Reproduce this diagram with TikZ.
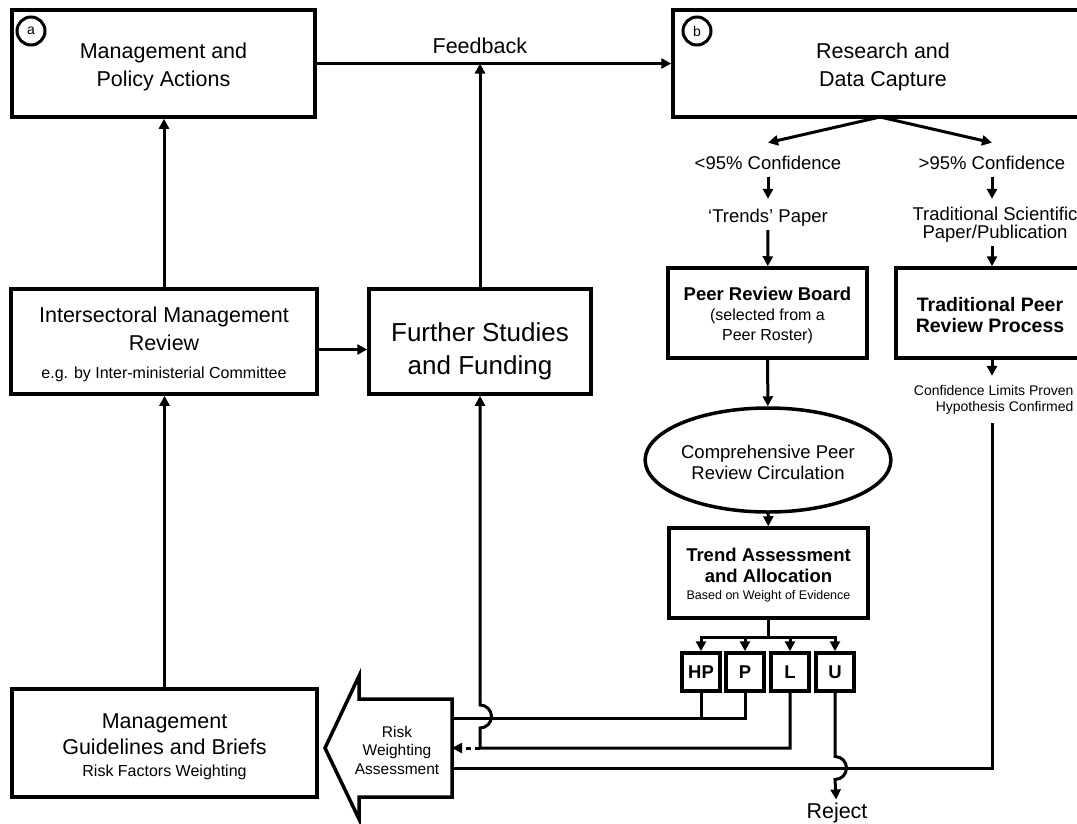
\documentclass[tikz,border=0pt]{standalone}
\usepackage{fontspec}
\setmainfont{Liberation Sans}
\usepackage{tikz}
\usetikzlibrary{arrows.meta, shapes.geometric, calc}

\newcommand\fsHead{\fontsize{21.5}{28}\selectfont}
\newcommand\fsBig{\fontsize{26}{33}\selectfont}
\newcommand\fsMid{\fontsize{18.5}{21}\selectfont}
\newcommand\fsPeer{\fontsize{19.5}{21}\selectfont}
\newcommand\fsSmall{\fontsize{15.5}{18.5}\selectfont}
\newcommand\fsSub{\fontsize{16}{20}\selectfont}
\newcommand\fsNote{\fontsize{14}{16}\selectfont}
\newcommand\fsTiny{\fontsize{12.5}{15}\selectfont}
\newcommand\fsTag{\fontsize{14}{14}\selectfont}

\begin{document}
\begin{tikzpicture}[
	x = 1pt, y = -1pt,
	panel/.style = {draw, line width=3.5pt, align=center, inner sep=0pt},
	grade/.style = {panel, minimum size=38pt, font=\fsMid\bfseries},
	tag/.style   = {draw, circle, line width=3pt, minimum size=28pt, inner sep=0pt, font=\fsTag},
	link/.style  = {line width=3pt},
	flow/.style  = {link, -{Triangle[length=10pt, width=10pt]}},
	hint/.style  = {flow, dash pattern=on 5pt off 4pt}
]
	\useasboundingbox (0,0) rectangle (1077,823);
	\clip (0,0) rectangle (1077,823);

	% left column
	\node [panel, minimum width=303pt, minimum height=107pt, font=\fsHead] (policy) at (163.5,63.5) {\rule{0pt}{22pt}Management and\\Policy Actions};
	\node [tag] (taga) at (31,31) {a};
	\node [panel, minimum width=306pt, minimum height=105pt, font=\fsHead] (review) at (164,341.5)
		{\rule{0pt}{22pt}Intersectoral Management\\Review\\\fsSub e.g. by Inter-ministerial Committee};
	\node [panel, minimum width=222pt, minimum height=105pt, font=\fsBig] (further) at (480,341.5) {\rule{0pt}{39pt}Further Studies\\and Funding};
	\node [panel, minimum width=305pt, minimum height=108pt, font=\fsHead] (guide) at (164.5,743)
		{\rule{0pt}{22pt}Management\\[-2pt]Guidelines and Briefs\\[-6pt]\fsSub Risk Factors Weighting};

	% risk weighting arrow
	\draw [panel] (325,748) -- (359,676) -- (359,699) -- (452,699) -- (452,797) -- (359,797) -- (359,819) -- cycle;
	\node [align=center, font=\fsSmall] (risk) at (397,750) {Risk\\Weighting\\Assessment};
	\coordinate (riskin) at (452,748);

	% right column
	\node [panel, minimum width=420pt, minimum height=107pt, font=\fsHead] (capture) at (883,63.5) {\rule{0pt}{22pt}Research and\\Data Capture};
	\node [tag] (tagb) at (697,31) {b};
	\node [font=\fsMid] (low) at (768,163) {<95\% Confidence};
	\node [font=\fsMid] (high) at (992,163) {>95\% Confidence};
	\node [font=\fsMid] (trends) at (768,218) {`Trends' Paper};
	\node [font=\fsMid, align=center] (paper) at (995,225) {Traditional Scientific\\[-3pt]Paper/Publication};
	\node [panel, minimum width=199pt, minimum height=90pt, font=\fsSub] (board) at (767.5,313)
		{\rule{0pt}{18pt}\fsMid\bfseries Peer Review Board\\\fsSub (selected from a\\\fsSub Peer Roster)};
	\node [panel, minimum width=188pt, minimum height=90pt, font=\fsPeer\bfseries] (trad) at (990,313) {\rule{0pt}{19pt}Traditional Peer\\Review Process};
	\node [font=\fsNote, align=right, anchor=east] (proven) at (1077,400) {Confidence Limits Proven\\Hypothesis Confirmed};
	\node [draw, ellipse, line width=3.5pt, minimum width=210pt, minimum height=104pt, inner sep=0pt, align=center, font=\fsMid] (circ) at (768,460)
		{\rule{0pt}{18pt}Comprehensive Peer\\Review Circulation};
	\node [panel, minimum width=199pt, minimum height=90pt, font=\fsMid\bfseries] (trend) at (768.5,573)
		{\rule{0pt}{18pt}Trend Assessment\\and Allocation\\[-4pt]\fsTiny\mdseries Based on Weight of Evidence};
	\foreach \g/\txt/\x in {hp/HP/701, p/P/745, l/L/790, u/U/835}
		\node [grade] (\g) at (\x,672) {\txt};
	\node [font=\fsHead] (reject) at (837,813) {Reject};

	% feedback loop
	\draw [flow] (policy) -- node [pos=0.46, anchor=south, inner sep=0pt, yshift=8pt, font=\fsHead] (fb) {Feedback} (policy -| capture.west);
	\coordinate (fbjoin) at (further.north |- policy.east);
	\draw [flow] (further) -- (fbjoin);
	\draw [flow] (review.north) -- (review.north |- policy.south);
	\draw [flow] (guide.north) -- (guide.north |- review.south);
	\draw [flow] ([yshift=-8pt]review.east) -- ([yshift=-8pt]further.west);

	% confidence branches
	\coordinate (fan) at (880,117);
	\draw [flow] (fan) -- ([yshift=10pt]low.north);
	\draw [flow] (fan) -- ([yshift=10pt]high.north);
	\draw [flow, shorten <=4pt, shorten >=7pt] (low) -- (trends);
	\draw [flow] (trends) -- (board);
	\draw [flow, shorten <=4pt, shorten >=5pt] (high) -- (high |- paper.north);
	\draw [flow] (paper.south -| high) -- (high |- trad.north);
	\draw [flow] (board) -- (circ);
	\draw [flow] (circ) -- (trend);
	\draw [flow, shorten >=6pt] (trad.south -| high) -- (high |- proven.north);

	% allocation
	\draw [link] (trend.south) -- ++(0,18) coordinate (fork);
	\draw [link, line cap=rect] (fork -| hp) -- (fork -| u);
	\foreach \g in {hp,p,l,u}
		\draw [flow] (fork -| \g) -- (\g.north);

	% weighting returns
	\coordinate (hpbus) at ($(hp.south)+(0,26)$);
	\draw [link] (hp.south) -- (hpbus);
	\draw [link] (p.south) -- (p.south |- hpbus) -- (hpbus -| riskin);
	\coordinate (lbus) at (l.south |- riskin);
	\draw [flow] (l.south) -- (lbus) -- (further.south |- lbus) -- ++(0,-20)
		arc [start angle=90, end angle=-90, radius=11.5] -- (further.south);
	\draw [hint] (further.south |- lbus) -- (riskin);
	\coordinate (cbus) at ($(riskin)+(0,20)$);
	\draw [link, shorten <=5pt] (proven.south -| high) -- (high |- cbus) -- (cbus);
	\draw [flow] (u.south) -- ($(u.south |- cbus)+(0,-11.5)$)
		arc [start angle=-90, end angle=90, radius=11.5] -- (reject);
\end{tikzpicture}
\end{document}
